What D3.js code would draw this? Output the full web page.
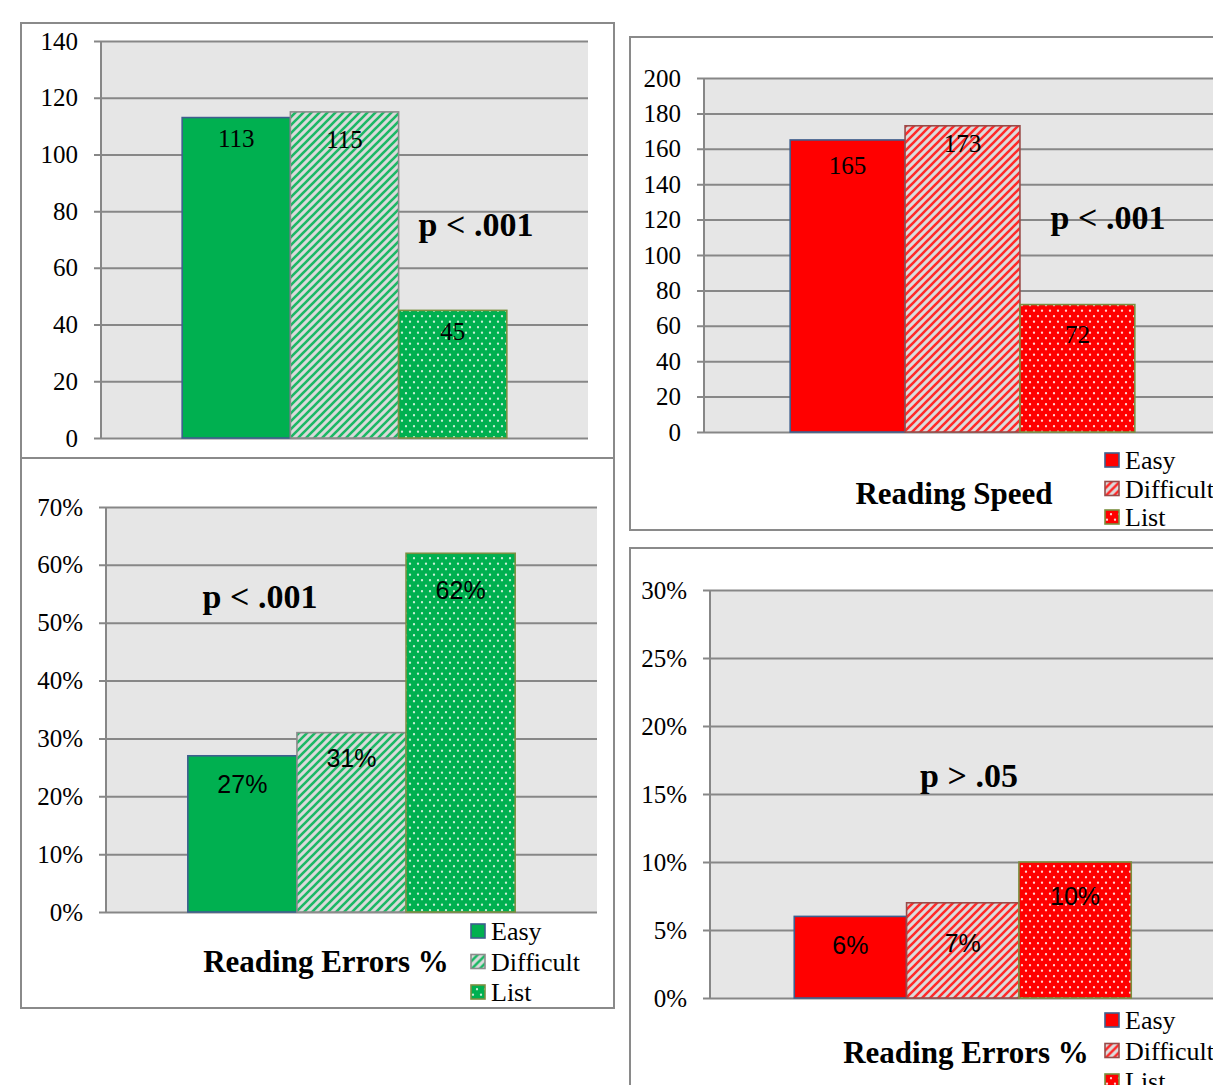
<!DOCTYPE html>
<html>
<head>
<meta charset="utf-8">
<script src="https://cdn.jsdelivr.net/npm/d3@7"></script>
<style>
  body { margin: 0; background: #fff; }
  svg { display: block; }
</style>
</head>
<body>
<svg id="chart" width="1213" height="1085"></svg>
<script>
// ---- data ----
const series = ["Easy", "Difficult", "List"];

const speedValuesGreen = [113, 115, 45];
const speedValuesRed = [165, 173, 72];
const errorValuesGreen = [27, 31, 62];   // percent
const errorValuesRed = [6, 7, 10];       // percent

const speedTicksGreen = [0, 20, 40, 60, 80, 100, 120, 140];
const speedTicksRed = [0, 20, 40, 60, 80, 100, 120, 140, 160, 180, 200];
const errorTicksGreen = [0, 10, 20, 30, 40, 50, 60, 70];
const errorTicksRed = [0, 5, 10, 15, 20, 25, 30];

const statNotes = ["p < .001", "p < .001", "p < .001", "p > .05"];
const panelTitles = [null, "Reading Speed", "Reading Errors %", "Reading Errors %"];

// ---- styles ----
const SERIF = "'Liberation Serif', 'Times New Roman', serif";
const SANS = "'Liberation Sans', Arial, sans-serif";
const GRID = "#878787";

const hues = {
  green: { base: "#00B050", stripe: "#1cb865", stripeBg: "#dadada", dot: "#c9f0d6",
           diffStroke: "#8c8c8c" },
  red:   { base: "#FF0000", stripe: "#ff2a2a", stripeBg: "#dcdcdc", dot: "#ffd4d4",
           diffStroke: "#9a4a48" }
};
const easyStroke = "#3e5f8e";
const listStroke = "#7a9040";

// ---- layout of the four panels ----
const panels = [
  { box: [21, 23, 593, 560], plot: [101, 588, 438, 41], values: speedValuesGreen,
    ticks: speedTicksGreen, pct: false, hue: "green", labelFont: SERIF,
    labelDy: [21, 27, 21], note: statNotes[0], notePos: [476, 236], title: panelTitles[0] },
  { box: [630, 37, 640, 493], plot: [704, 1221, 432, 78], values: speedValuesRed,
    ticks: speedTicksRed, pct: false, hue: "red", labelFont: SERIF,
    labelDy: [25, 17, 30], note: statNotes[1], notePos: [1108, 229],
    title: panelTitles[1], titlePos: [954, 504], legend: [1105, 460, 28.5] },
  { box: [21, 458, 593, 550], plot: [106, 597, 912, 507], values: errorValuesGreen,
    ticks: errorTicksGreen, pct: true, hue: "green", labelFont: SANS,
    labelDy: [28, 26, 37], note: statNotes[2], notePos: [260, 608],
    title: panelTitles[2], titlePos: [326, 972], legend: [471, 931, 30.5] },
  { box: [630, 548, 640, 600], plot: [710, 1215.5, 998, 590], values: errorValuesRed,
    ticks: errorTicksRed, pct: true, hue: "red", labelFont: SANS,
    labelDy: [29, 40, 34], note: statNotes[3], notePos: [969, 787],
    title: panelTitles[3], titlePos: [966, 1063], legend: [1105, 1020, 30.5] }
];

const svg = d3.select("#chart");
svg.append("rect").attr("width", 1213).attr("height", 1085).attr("fill", "#fff");

// ---- fill patterns ----
const defs = svg.append("defs");
Object.entries(hues).forEach(([name, h]) => {
  const hatch = defs.append("pattern").attr("id", "hatch-" + name)
    .attr("patternUnits", "userSpaceOnUse").attr("width", 8).attr("height", 8);
  hatch.append("rect").attr("width", 8).attr("height", 8).attr("fill", h.stripeBg);
  hatch.append("path").attr("d", "M-2,2L2,-2M0,8L8,0M6,10L10,6")
    .attr("stroke", h.stripe).attr("stroke-width", 2.6);

  const dots = defs.append("pattern").attr("id", "dots-" + name)
    .attr("patternUnits", "userSpaceOnUse").attr("width", 8).attr("height", 11);
  dots.append("rect").attr("width", 8).attr("height", 11).attr("fill", h.base);
  dots.append("circle").attr("cx", 2).attr("cy", 2.75).attr("r", 1.15).attr("fill", h.dot);
  dots.append("circle").attr("cx", 6).attr("cy", 8.25).attr("r", 1.15).attr("fill", h.dot);
});

function fillFor(s, hue) {
  if (s === "Easy") return hues[hue].base;
  if (s === "Difficult") return `url(#hatch-${hue})`;
  return `url(#dots-${hue})`;
}
function strokeFor(s, hue) {
  if (s === "Easy") return easyStroke;
  if (s === "Difficult") return hues[hue].diffStroke;
  return listStroke;
}

// ---- draw each panel ----
panels.forEach(p => {
  const g = svg.append("g");
  const [bx, by, bw, bh] = p.box;
  g.append("rect").attr("x", bx).attr("y", by).attr("width", bw).attr("height", bh)
    .attr("fill", "#fff").attr("stroke", "#8a8a8a").attr("stroke-width", 2);

  const [x0, x1, yb, yt] = p.plot;
  g.append("rect").attr("x", x0).attr("y", yt).attr("width", x1 - x0).attr("height", yb - yt)
    .attr("fill", "#e6e6e6");

  const y = d3.scaleLinear().domain([0, d3.max(p.ticks)]).range([yb, yt]);
  const axis = d3.axisLeft(y)
    .tickValues(p.ticks)
    .tickSize(-(x1 - x0 + 7))
    .tickPadding(16)
    .tickFormat(p.pct ? d => d + "%" : d3.format("d"));

  g.append("g").attr("transform", `translate(${x0 - 7},0)`).call(axis)
    .call(a => a.select(".domain").remove())
    .call(a => a.selectAll(".tick line").attr("stroke", GRID).attr("stroke-width", 2))
    .call(a => a.selectAll(".tick text")
      .attr("font-family", SERIF).attr("font-size", 25).attr("fill", "#000"));

  g.append("line").attr("x1", x0).attr("x2", x0).attr("y1", yt).attr("y2", yb)
    .attr("stroke", GRID).attr("stroke-width", 2);

  const xo = d3.scaleBand().domain([""]).range([x0, x1]).paddingOuter(0.25).paddingInner(0);
  const xi = d3.scaleBand().domain(series).range([0, xo.bandwidth()]);

  const data = series.map((s, i) => ({ s, v: p.values[i], dy: p.labelDy[i] }));

  g.selectAll("rect.bar").data(data).join("rect").attr("class", "bar")
    .attr("x", d => xo("") + xi(d.s))
    .attr("y", d => y(d.v))
    .attr("width", xi.bandwidth())
    .attr("height", d => yb - y(d.v))
    .attr("fill", d => fillFor(d.s, p.hue))
    .attr("stroke", d => strokeFor(d.s, p.hue))
    .attr("stroke-width", 1.6);

  g.selectAll("text.val").data(data).join("text").attr("class", "val")
    .attr("x", d => xo("") + xi(d.s) + xi.bandwidth() / 2)
    .attr("y", d => y(d.v) + d.dy)
    .attr("dy", "0.35em")
    .attr("text-anchor", "middle")
    .attr("font-family", p.labelFont).attr("font-size", 25).attr("fill", "#000")
    .text(d => p.pct ? d.v + "%" : d.v);

  g.append("text").attr("x", p.notePos[0]).attr("y", p.notePos[1])
    .attr("text-anchor", "middle").attr("font-family", SERIF).attr("font-weight", "bold")
    .attr("font-size", 34).attr("fill", "#000").text(p.note);

  if (p.title) {
    g.append("text").attr("x", p.titlePos[0]).attr("y", p.titlePos[1])
      .attr("text-anchor", "middle").attr("font-family", SERIF).attr("font-weight", "bold")
      .attr("font-size", 31).attr("fill", "#000").text(p.title);
  }

  if (p.legend) {
    const [lx, ly, step] = p.legend;
    const items = g.selectAll("g.legend-item").data(series).join("g")
      .attr("class", "legend-item")
      .attr("transform", (d, i) => `translate(${lx},${ly + i * step})`);
    items.append("rect").attr("x", 0).attr("y", -7).attr("width", 14).attr("height", 14)
      .attr("fill", d => fillFor(d, p.hue)).attr("stroke", d => strokeFor(d, p.hue))
      .attr("stroke-width", 1.6);
    items.append("text").attr("x", 20).attr("y", 9)
      .attr("font-family", SERIF).attr("font-size", 26).attr("fill", "#000")
      .text(d => d);
  }
});
</script>
</body>
</html>
